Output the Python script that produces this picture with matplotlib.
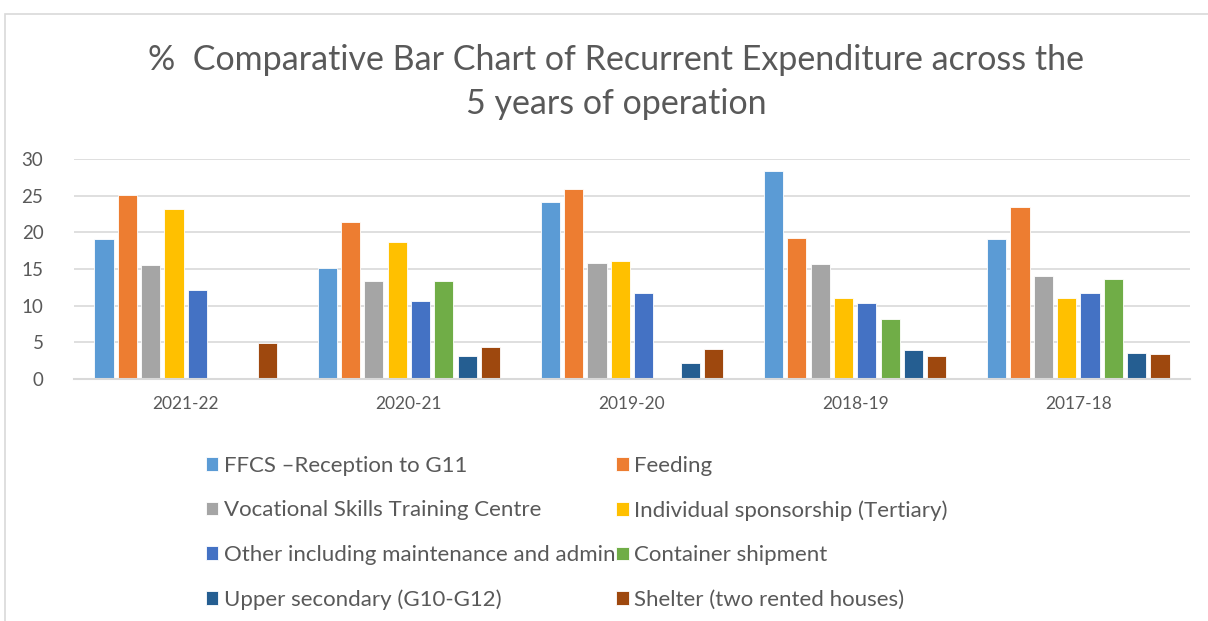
import numpy as np
import matplotlib
matplotlib.use("Agg")
import matplotlib.pyplot as plt
from matplotlib.patches import Rectangle

plt.rcParams['font.family'] = ['Lato', 'DejaVu Sans']

years = ["2021-22", "2020-21", "2019-20", "2018-19", "2017-18"]
series_names = [
    "FFCS \u2013Reception to G11",
    "Feeding",
    "Vocational Skills Training Centre",
    "Individual sponsorship (Tertiary)",
    "Other including maintenance and admin",
    "Container shipment",
    "Upper secondary (G10-G12)",
    "Shelter (two rented houses)",
]
ffcs = [19.1, 15.1, 24.2, 28.4, 19.1]
feeding = [25.1, 21.4, 25.9, 19.2, 23.5]
vocational = [15.6, 13.3, 15.8, 15.7, 14.1]
sponsorship = [23.2, 18.7, 16.1, 11.1, 11.0]
other = [12.1, 10.7, 11.7, 10.4, 11.7]
container = [0, 13.4, 0, 8.2, 13.6]
upper_sec = [0, 3.1, 2.2, 3.9, 3.6]
shelter = [4.9, 4.3, 4.1, 3.1, 3.4]

all_series = [ffcs, feeding, vocational, sponsorship, other, container, upper_sec, shelter]
colors = ["#5B9BD5", "#ED7D31", "#A5A5A5", "#FFC000", "#4472C4", "#70AD47", "#255E91", "#9E480E"]
text_col = "#595959"
grid_col = "#D9D9D9"

W, H = 1208, 621
fig = plt.figure(figsize=(W / 100, H / 100), dpi=100)

# chart border
fig.patches.append(Rectangle((5 / W, -0.1), 1.2, 1 - 14 / H + 0.1, transform=fig.transFigure,
                             fill=False, edgecolor=grid_col, linewidth=1.2))

ax = fig.add_axes([74 / W, (H - 379) / H, (1190 - 74) / W, (379 - 159) / H])

x = np.arange(len(years))
step = 0.1045
bw = 0.086
handles = []
for i, vals in enumerate(all_series):
    pos = x + (i - 3.5) * step
    b = ax.bar(pos, vals, width=bw, color=colors[i], edgecolor="white", linewidth=0.6,
               label=series_names[i], zorder=3)
    handles.append(b)

ax.set_xlim(-0.5, len(years) - 0.5)
ax.set_ylim(0, 30)
ax.set_yticks(range(0, 31, 5))
ax.set_xticks(x)
ax.set_xticklabels(years)
ax.tick_params(axis="both", length=0, labelsize=12.5, colors=text_col)
ax.tick_params(axis="y", labelsize=13.5, pad=22)
ax.tick_params(axis="x", pad=12)
for s in ["top", "right", "left"]:
    ax.spines[s].set_visible(False)
ax.spines["bottom"].set_color(grid_col)
ax.spines["bottom"].set_linewidth(1.5)
ax.spines["bottom"].set_zorder(4)
ax.yaxis.grid(True, color=grid_col, linewidth=1.2, zorder=0)
ax.set_axisbelow(True)

fig.text(0.51, 1 - 60 / H, "%  Comparative Bar Chart of Recurrent Expenditure across the",
         ha="center", va="center", fontsize=24.5, color=text_col)
fig.text(0.51, 1 - 104 / H, "5 years of operation",
         ha="center", va="center", fontsize=24.5, color=text_col)

order = [0, 2, 4, 6, 1, 3, 5, 7]
leg = fig.legend([handles[i] for i in order], [series_names[i] for i in order], ncol=2,
                 loc="upper left", bbox_to_anchor=(186 / W, 1 - 436 / H), frameon=False,
                 fontsize=16, labelcolor=text_col, handlelength=0.55, handleheight=0.55,
                 handletextpad=0.25, columnspacing=0.05, labelspacing=1.1)

fig.savefig("out.png", dpi=100)
